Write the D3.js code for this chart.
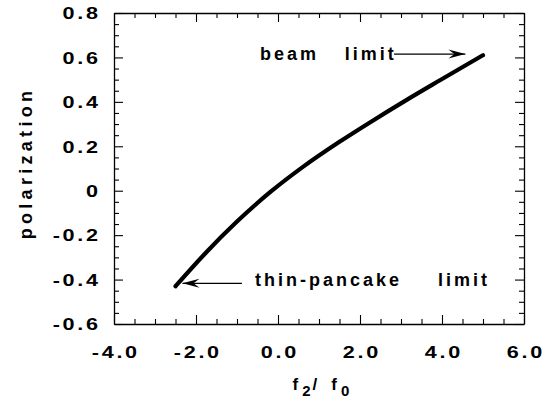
<!DOCTYPE html>
<html>
<head>
<meta charset="utf-8">
<script src="https://cdn.jsdelivr.net/npm/d3@7"></script>
<style>
  html, body { margin: 0; padding: 0; background: #fff; }
  svg { display: block; }
  text { font-family: "Liberation Sans", Arial, Helvetica, sans-serif; font-weight: bold; fill: #000; }
</style>
</head>
<body>
<svg id="chart" width="558" height="398"></svg>
<script>
// ---- data ----
const ratioF2F0 = [-2.5, -1.8, -1.0, -0.2, 0.6, 1.5, 2.3, 3.15, 3.95, 5.0];
const polarization = [-0.43, -0.287, -0.139, -0.008, 0.106, 0.22, 0.314, 0.41, 0.497, 0.61];

const xMajorTicks = [-4, -2, 0, 2, 4, 6];
const xTickLabels = ["-4.0", "-2.0", "0.0", "2.0", "4.0", "6.0"];
const yMajorTicks = [-0.6, -0.4, -0.2, 0, 0.2, 0.4, 0.6, 0.8];
const yTickLabels = ["-0.6", "-0.4", "-0.2", "0", "0.2", "0.4", "0.6", "0.8"];

// annotations (data units)
const annoTexts = [
  { text: "beam", x: -0.44, y: 0.588 },
  { text: "limit", x: 1.63, y: 0.588 },
  { text: "thin-pancake", x: -0.56, y: -0.43 },
  { text: "limit", x: 3.9, y: -0.43 }
];
const annoArrows = [
  { x1: 2.83, y1: 0.615, x2: 4.57, y2: 0.615 },
  { x1: -0.88, y1: -0.417, x2: -2.33, y2: -0.417 }
];

// ---- layout ----
const svg = d3.select("#chart");
const L = 114, R = 524, T = 13, B = 324;
const x = d3.scaleLinear().domain([-4, 6]).range([L, R]);
const y = d3.scaleLinear().domain([-0.6, 0.8]).range([B, T]);

const xMinor = d3.range(-4, 6.001, 0.5).filter(v => !xMajorTicks.some(m => Math.abs(m - v) < 1e-9));
const yMinor = d3.range(-0.6, 0.8001, 0.05).map(v => +v.toFixed(2)).filter(v => !yMajorTicks.some(m => Math.abs(m - v) < 1e-9));

const MAJ = 9, MIN = 5;

function styleAxis(g) {
  g.selectAll("path.domain").attr("stroke", "#000").attr("stroke-width", 1.3);
  g.selectAll(".tick line").attr("stroke", "#000").attr("stroke-width", 1.1);
  g.attr("font-family", null).attr("font-size", null);
}

// bottom axis
const gB = svg.append("g").attr("transform", `translate(0,${B})`)
  .call(d3.axisBottom(x).tickValues(xMajorTicks).tickSizeInner(-MAJ).tickSizeOuter(0)
    .tickFormat((d, i) => xTickLabels[i]));
gB.call(styleAxis);
gB.selectAll(".tick text")
  .attr("y", null).attr("dy", null)
  .attr("font-size", 16)
  .attr("letter-spacing", 2)
  .attr("text-anchor", "middle")
  .attr("transform", "translate(1.3,34) scale(1.35,1)");
svg.append("g").attr("transform", `translate(0,${B})`)
  .call(d3.axisBottom(x).tickValues(xMinor).tickSizeInner(-MIN).tickSizeOuter(0).tickFormat(""))
  .call(styleAxis).select("path.domain").remove();

// top axis
svg.append("g").attr("transform", `translate(0,${T})`)
  .call(d3.axisTop(x).tickValues(xMajorTicks).tickSizeInner(-MAJ).tickSizeOuter(0).tickFormat(""))
  .call(styleAxis);
svg.append("g").attr("transform", `translate(0,${T})`)
  .call(d3.axisTop(x).tickValues(xMinor).tickSizeInner(-MIN).tickSizeOuter(0).tickFormat(""))
  .call(styleAxis).select("path.domain").remove();

// left axis
const gL = svg.append("g").attr("transform", `translate(${L},0)`)
  .call(d3.axisLeft(y).tickValues(yMajorTicks).tickSizeInner(-MAJ).tickSizeOuter(0)
    .tickFormat((d, i) => yTickLabels[i]));
gL.call(styleAxis);
gL.selectAll(".tick text")
  .attr("x", null).attr("dy", null)
  .attr("font-size", 16)
  .attr("letter-spacing", 2)
  .attr("text-anchor", "end")
  .attr("transform", "translate(-13.3,5.8) scale(1.35,1)");
svg.append("g").attr("transform", `translate(${L},0)`)
  .call(d3.axisLeft(y).tickValues(yMinor).tickSizeInner(-MIN).tickSizeOuter(0).tickFormat(""))
  .call(styleAxis).select("path.domain").remove();

// right axis
svg.append("g").attr("transform", `translate(${R},0)`)
  .call(d3.axisRight(y).tickValues(yMajorTicks).tickSizeInner(-MAJ).tickSizeOuter(0).tickFormat(""))
  .call(styleAxis);
svg.append("g").attr("transform", `translate(${R},0)`)
  .call(d3.axisRight(y).tickValues(yMinor).tickSizeInner(-MIN).tickSizeOuter(0).tickFormat(""))
  .call(styleAxis).select("path.domain").remove();

// ---- curve ----
const pts = ratioF2F0.map((v, i) => [v, polarization[i]]);
svg.append("path")
  .datum(pts)
  .attr("fill", "none")
  .attr("stroke", "#000")
  .attr("stroke-width", 4.2)
  .attr("stroke-linecap", "round")
  .attr("stroke-linejoin", "round")
  .attr("d", d3.line().x(d => x(d[0])).y(d => y(d[1])).curve(d3.curveMonotoneX));

// ---- annotations ----
const defs = svg.append("defs");
defs.append("marker")
  .attr("id", "head")
  .attr("markerUnits", "userSpaceOnUse")
  .attr("markerWidth", 20).attr("markerHeight", 12)
  .attr("viewBox", "-18 -6 20 12")
  .attr("refX", 0).attr("refY", 0)
  .attr("orient", "auto")
  .append("path")
  .attr("d", "M0,0 L-17,-4.5 L-11,0 L-17,4.5 Z")
  .attr("fill", "#000");

svg.append("g").selectAll("line")
  .data(annoArrows)
  .join("line")
  .attr("x1", d => x(d.x1)).attr("y1", d => y(d.y1))
  .attr("x2", d => x(d.x2)).attr("y2", d => y(d.y2))
  .attr("stroke", "#000").attr("stroke-width", 1.1)
  .attr("marker-end", "url(#head)");

svg.append("g").selectAll("text")
  .data(annoTexts)
  .join("text")
  .attr("x", d => x(d.x)).attr("y", d => y(d.y))
  .attr("font-size", 18)
  .attr("letter-spacing", 3)
  .text(d => d.text);

// ---- axis titles ----
svg.append("text")
  .attr("transform", "translate(32,163) rotate(-90)")
  .attr("text-anchor", "middle")
  .attr("font-size", 18)
  .attr("letter-spacing", 4.3)
  .text("polarization");

const xt = svg.append("text").attr("x", 292.5).attr("y", 390).attr("font-size", 17);
xt.append("tspan").text("f");
xt.append("tspan").attr("font-size", 15).attr("dx", 4).attr("dy", 6).text("2");
xt.append("tspan").attr("dx", 2).attr("dy", -6).text("/");
xt.append("tspan").attr("dx", 14).text("f");
xt.append("tspan").attr("font-size", 15).attr("dx", 4).attr("dy", 6).text("0");
</script>
</body>
</html>
